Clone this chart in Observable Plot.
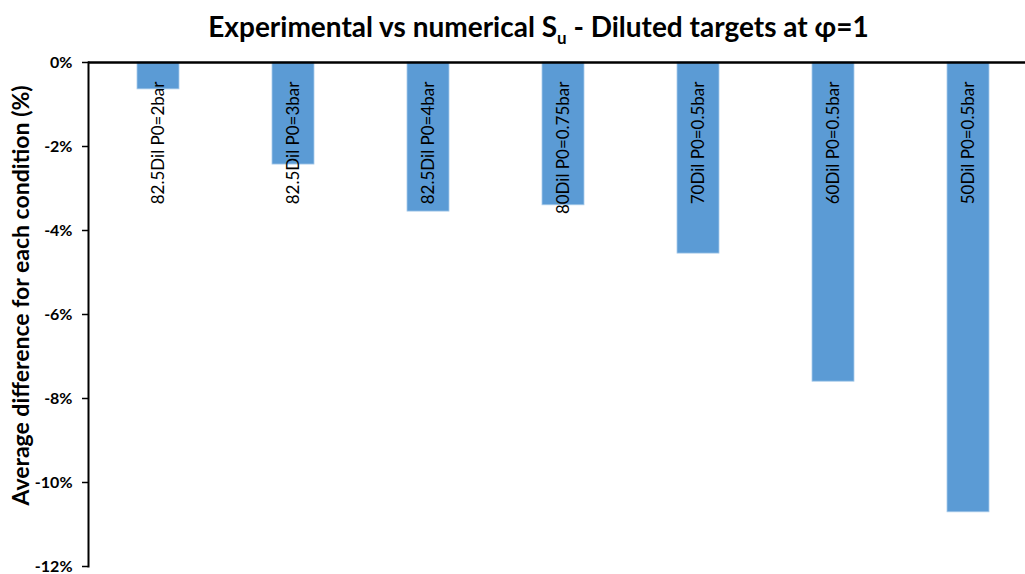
<!DOCTYPE html>
<html>
<head>
<meta charset="utf-8">
<script src="https://cdn.jsdelivr.net/npm/d3@7"></script>
<script src="https://cdn.jsdelivr.net/npm/@observablehq/plot@0.6"></script>
<style>
  body { margin: 0; background: #fff; font-family: Lato, "Open Sans", sans-serif; }
  #title { height: 52px; box-sizing: border-box; padding-top: 9px; padding-left: 52px; text-align: center;
           font: bold 28px Lato, sans-serif; color: #000; line-height: 34px; white-space: nowrap; }
  #title sub { font-size: 17px; line-height: 0; }
</style>
</head>
<body>
<div id="title">Experimental vs numerical S<sub>u</sub> - Diluted targets at φ=1</div>
<div id="chart"></div>
<script>
const categories = ["82.5Dil P0=2bar", "82.5Dil P0=3bar", "82.5Dil P0=4bar", "80Dil P0=0.75bar", "70Dil P0=0.5bar", "60Dil P0=0.5bar", "50Dil P0=0.5bar"];
const values = [-0.64, -2.43, -3.55, -3.40, -4.55, -7.60, -10.71];
const yTicks = [0, -2, -4, -6, -8, -10, -12];
const yTitle = "Average difference for each condition (%)";

const data = categories.map((c, i) => ({category: c, value: values[i]}));

const chart = Plot.plot({
  width: 1025,
  height: 522,
  marginTop: 10,
  marginBottom: 8,
  marginLeft: 88,
  marginRight: 0,
  style: {fontFamily: "Lato, sans-serif", color: "#000", background: "#fff", overflow: "hidden"},
  x: {domain: categories, range: [89, 1037], paddingInner: 0.69, paddingOuter: 0.345, axis: null},
  y: {domain: [-12, 0], ticks: yTicks},
  marks: [
    Plot.barY(data, {x: "category", y: "value", fill: "#5B9BD5", stroke: "#A9CBEA", strokeWidth: 0.8}),
    Plot.axisY({ticks: yTicks, tickSize: 6, tickPadding: 10, tickFormat: d => d + "%", label: null,
                fontSize: 16, fontWeight: "bold", stroke: "#000", strokeWidth: 1.5}),
    Plot.frame({anchor: "left", stroke: "#000", strokeWidth: 2}),
    Plot.ruleY([0], {stroke: "#000", strokeWidth: 2.5}),
    Plot.text(data, {x: "category", y: 0, text: "category", rotate: -90, textAnchor: "end", dy: 19,
                     fontSize: 17, fill: "#000"}),
    Plot.text([yTitle], {frameAnchor: "left", text: d => d, rotate: -90, textAnchor: "middle", dx: -67, dy: -19,
                         fontSize: 23, fontWeight: "bold", fill: "#000"})
  ]
});
document.getElementById("chart").appendChild(chart);
</script>
</body>
</html>
